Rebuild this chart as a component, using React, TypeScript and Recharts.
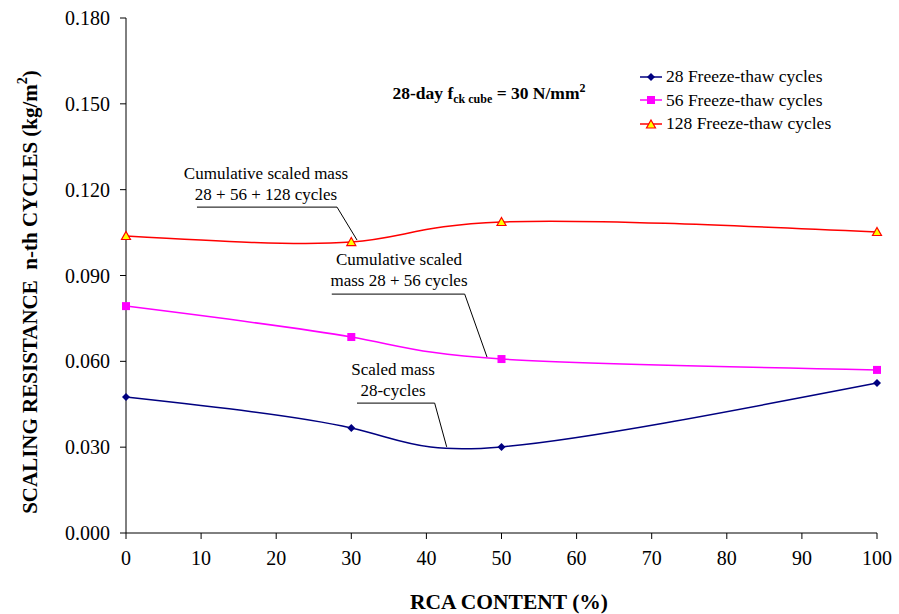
import React from 'react';
import { LineChart, Line, XAxis, YAxis, ReferenceLine } from 'recharts';

const rcaContent = [0, 30, 50, 100];
const cycles28 = [0.0475, 0.0367, 0.0301, 0.0524];
const cycles56 = [0.0793, 0.0685, 0.0608, 0.057];
const cycles128 = [0.1038, 0.1017, 0.1087, 0.1052];
const xTicks = [0, 10, 20, 30, 40, 50, 60, 70, 80, 90, 100];
const yTicks = [0, 0.03, 0.06, 0.09, 0.12, 0.15, 0.18];

// leader lines for the callouts, in data units
const leader128 = [
  { x: 9.45, y: 0.1139 },
  { x: 28.1, y: 0.1139 },
  { x: 30.76, y: 0.1024 },
];
const leader56 = [
  { x: 27.4, y: 0.0835 },
  { x: 45.1, y: 0.0835 },
  { x: 48.07, y: 0.0615 },
];
const leader28 = [
  { x: 30.76, y: 0.0454 },
  { x: 41.1, y: 0.0454 },
  { x: 42.7, y: 0.0301 },
];

const data = rcaContent.map((x, i) => ({
  x,
  c28: cycles28[i],
  c56: cycles56[i],
  c128: cycles128[i],
}));

const FONT = '"Liberation Serif", "Times New Roman", serif';

const Diamond = (props: any) => {
  const { cx, cy } = props;
  if (cx == null || cy == null) return null;
  return <path d={`M${cx},${cy - 4}L${cx + 4},${cy}L${cx},${cy + 4}L${cx - 4},${cy}Z`} fill="#000080" />;
};

const Square = (props: any) => {
  const { cx, cy } = props;
  if (cx == null || cy == null) return null;
  return <rect x={cx - 4} y={cy - 4} width={8} height={8} fill="#FF00FF" />;
};

const Triangle = (props: any) => {
  const { cx, cy } = props;
  if (cx == null || cy == null) return null;
  return (
    <path
      d={`M${cx},${cy - 4.5}L${cx + 4.5},${cy + 3.5}L${cx - 4.5},${cy + 3.5}Z`}
      fill="#FFFF00"
      stroke="#FF0000"
      strokeWidth={1.2}
    />
  );
};

const legendItems = [
  { name: '28 Freeze-thaw cycles', color: '#000080', marker: 'diamond' },
  { name: '56 Freeze-thaw cycles', color: '#FF00FF', marker: 'square' },
  { name: '128 Freeze-thaw cycles', color: '#FF0000', marker: 'triangle' },
];

const ChartLegend = () => (
  <div
    style={{
      position: 'absolute',
      left: 640,
      top: 65,
      fontFamily: FONT,
      fontSize: 17.5,
      color: '#000',
    }}
  >
    {legendItems.map((it) => (
      <div key={it.name} style={{ display: 'flex', alignItems: 'center', height: 23.5 }}>
        <svg width={22} height={12} style={{ marginRight: 4 }}>
          <line x1={0} y1={6} x2={22} y2={6} stroke={it.color} strokeWidth={1.5} />
          {it.marker === 'diamond' && <Diamond cx={11} cy={6} />}
          {it.marker === 'square' && <Square cx={11} cy={6} />}
          {it.marker === 'triangle' && <Triangle cx={11} cy={6.5} />}
        </svg>
        <span>{it.name}</span>
      </div>
    ))}
  </div>
);

const YLabel = () => (
  <text
    x={30}
    y={292}
    transform="rotate(-90 30 292)"
    textAnchor="middle"
    dominantBaseline="central"
    fontFamily={FONT}
    fontSize={21}
    fontWeight="bold"
    fill="#000"
  >
    SCALING RESISTANCE{'\u00a0\u00a0'}n-th CYCLES (kg/m
    <tspan dy={-8} fontSize={14}>2</tspan>
    <tspan dy={8}>)</tspan>
  </text>
);

const XLabel = () => (
  <text
    x={509}
    y={602}
    textAnchor="middle"
    dominantBaseline="central"
    fontFamily={FONT}
    fontSize={21.5}
    fontWeight="bold"
    fill="#000"
  >
    RCA CONTENT (%)
  </text>
);

const note: React.CSSProperties = {
  position: 'absolute',
  fontFamily: FONT,
  fontSize: 17,
  lineHeight: '21px',
  textAlign: 'center',
  color: '#000',
  whiteSpace: 'nowrap',
  transform: 'translateX(-50%)',
};

const segLine = (pts: { x: number; y: number }[], key: string) =>
  pts.slice(1).map((p, i) => (
    <ReferenceLine
      key={`${key}${i}`}
      segment={[pts[i], p]}
      stroke="#000"
      strokeWidth={1}
      ifOverflow="visible"
    />
  ));

export default function App() {
  return (
    <div style={{ position: 'absolute', left: 0, top: 0, width: 899, height: 614, background: '#fff' }}>
      <LineChart width={899} height={614} data={data} margin={{ top: 18, right: 22, bottom: 0, left: 0 }}>
        <XAxis
          dataKey="x"
          type="number"
          domain={[0, 100]}
          ticks={xTicks}
          interval={0}
          stroke="#000"
          tickSize={6}
          tickMargin={12}
          height={81}
          tick={{ fill: '#000', fontFamily: FONT, fontSize: 20 }}
          label={<XLabel />}
        />
        <YAxis
          type="number"
          domain={[0, 0.18]}
          ticks={yTicks}
          interval={0}
          width={126}
          stroke="#000"
          tickSize={6}
          tickMargin={10}
          tickFormatter={(v: number) => v.toFixed(3)}
          tick={{ fill: '#000', fontFamily: FONT, fontSize: 20 }}
          label={<YLabel />}
        />
        {segLine(leader128, 'a')}
        {segLine(leader56, 'b')}
        {segLine(leader28, 'c')}
        <Line
          type="natural"
          dataKey="c28"
          stroke="#000080"
          strokeWidth={1.5}
          dot={<Diamond />}
          isAnimationActive={false}
        />
        <Line
          type="natural"
          dataKey="c56"
          stroke="#FF00FF"
          strokeWidth={1.5}
          dot={<Square />}
          isAnimationActive={false}
        />
        <Line
          type="natural"
          dataKey="c128"
          stroke="#FF0000"
          strokeWidth={1.5}
          dot={<Triangle />}
          isAnimationActive={false}
        />
      </LineChart>
      <ChartLegend />
      <div
        style={{
          position: 'absolute',
          left: 489,
          top: 81,
          transform: 'translateX(-50%)',
          fontFamily: FONT,
          fontSize: 17.5,
          fontWeight: 'bold',
          whiteSpace: 'nowrap',
          color: '#000',
        }}
      >
        28-day f<sub style={{ fontSize: 12 }}>ck cube</sub> = 30 N/mm<sup style={{ fontSize: 12 }}>2</sup>
      </div>
      <div style={{ ...note, left: 266, top: 163 }}>
        Cumulative scaled mass
        <br />
        28 + 56 + 128 cycles
      </div>
      <div style={{ ...note, left: 399, top: 249 }}>
        Cumulative scaled
        <br />
        mass 28 + 56 cycles
      </div>
      <div style={{ ...note, left: 393, top: 359 }}>
        Scaled mass
        <br />
        28-cycles
      </div>
    </div>
  );
}
